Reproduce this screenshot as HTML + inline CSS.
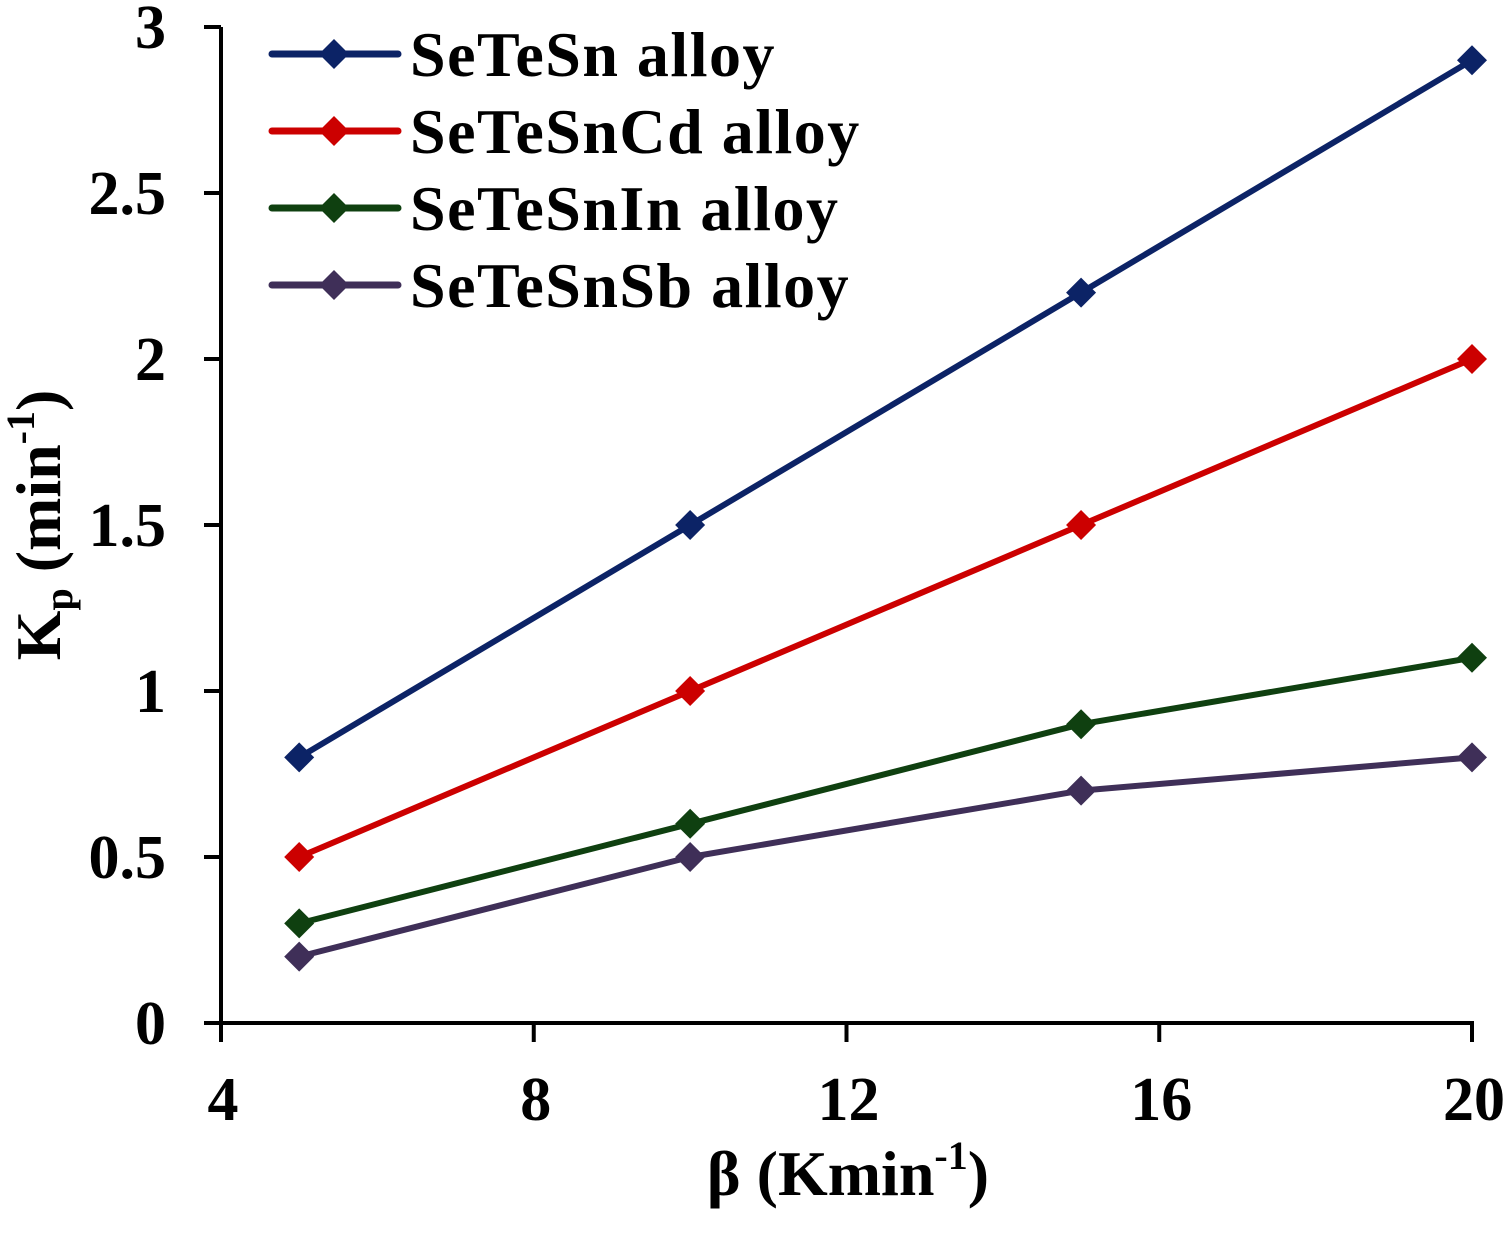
<!DOCTYPE html>
<html><head><meta charset="utf-8"><style>
body{margin:0;background:#fff;}
svg{display:block;font-family:"Liberation Serif",serif;font-weight:bold;}
</style></head><body>
<svg id="chart" width="1508" height="1233" viewBox="0 0 1508 1233" xmlns="http://www.w3.org/2000/svg">
<g id="axes"></g>
<g id="series"></g>
<g id="legend"></g>
<text x="848" y="1195" font-size="64" text-anchor="middle">β (Kmin<tspan font-size="40" dy="-26">-1</tspan><tspan dy="26">)</tspan></text>
<text transform="translate(60,525) rotate(-90)" font-size="64" text-anchor="middle">K<tspan font-size="40" dy="12">p</tspan><tspan dy="-12"> (min</tspan><tspan font-size="40" dy="-26">-1</tspan><tspan dy="26">)</tspan></text>
</svg>
<script>
const xVals=[5,10,15,20];
const seriesNames=["SeTeSn alloy","SeTeSnCd alloy","SeTeSnIn alloy","SeTeSnSb alloy"];
const sSn=[0.8,1.5,2.2,2.9];
const sCd=[0.5,1.0,1.5,2.0];
const sIn=[0.3,0.6,0.9,1.1];
const sSb=[0.2,0.5,0.7,0.8];
const xTicks=[4,8,12,16,20];
const yTicks=[0,0.5,1,1.5,2,2.5,3];
const yTickLabels=["0","0.5","1","1.5","2","2.5","3"];
const colors=["#0c2366","#cc0000","#0f4010","#3f2f58"];
const seriesData=[sSn,sCd,sIn,sSb];
const NS="http://www.w3.org/2000/svg";
const X=v=>221+(v-4)*(1472-221)/16;
const Y=v=>1023-v*(1023-27)/3;
function mk(t,a,p){const e=document.createElementNS(NS,t);for(const k in a)e.setAttribute(k,a[k]);p.appendChild(e);return e;}
const ax=document.getElementById('axes');
let l=mk('line',{x1:221,y1:27,x2:221,y2:1023,stroke:'#000','stroke-width':4},ax);


l=mk('line',{x1:204,y1:1023,x2:1474,y2:1023,stroke:'#000','stroke-width':4},ax);


yTicks.forEach((v,i)=>{
 const t=mk('line',{x1:204,y1:Y(v),x2:221,y2:Y(v),stroke:'#000','stroke-width':4},ax);
 
 
 const tx=mk('text',{x:166,y:Y(v)+21,'font-size':62,'text-anchor':'end'},ax);
 tx.textContent=yTickLabels[i];
 
 
});
xTicks.forEach(v=>{
 const t=mk('line',{x1:X(v),y1:1023,x2:X(v),y2:1042,stroke:'#000','stroke-width':4},ax);
 
 
 const tx=mk('text',{x:X(v)+2,y:1120,'font-size':62,'text-anchor':'middle'},ax);
 tx.textContent=String(v);
 
 
});
const sg=document.getElementById('series');
function diamond(cx,cy,c,p){return mk('polygon',{points:`${cx},${cy-15} ${cx+15},${cy} ${cx},${cy+15} ${cx-15},${cy}`,fill:c},p);}
seriesData.forEach((d,si)=>{
 const pl=mk('polyline',{points:d.map((v,i)=>X(xVals[i])+','+Y(v)).join(' '),fill:'none',stroke:colors[si],'stroke-width':6,'stroke-linejoin':'round'},sg);
 
 
 d.forEach((v,i)=>{
  const m=diamond(X(xVals[i]),Y(v),colors[si],sg);
  
  
 });
});
const lg=document.getElementById('legend');
seriesNames.forEach((n,i)=>{
 const y=54+i*77;
 const ln=mk('line',{x1:272,y1:y,x2:398,y2:y,stroke:colors[i],'stroke-width':7,'stroke-linecap':'round'},lg);
 
 
 const d=diamond(334,y,colors[i],lg);
 
 
 const t=mk('text',{x:410,y:y+22,'font-size':64,'letter-spacing':'1.5'},lg);
 t.textContent=n;
 
 
});
</script>
</body></html>
